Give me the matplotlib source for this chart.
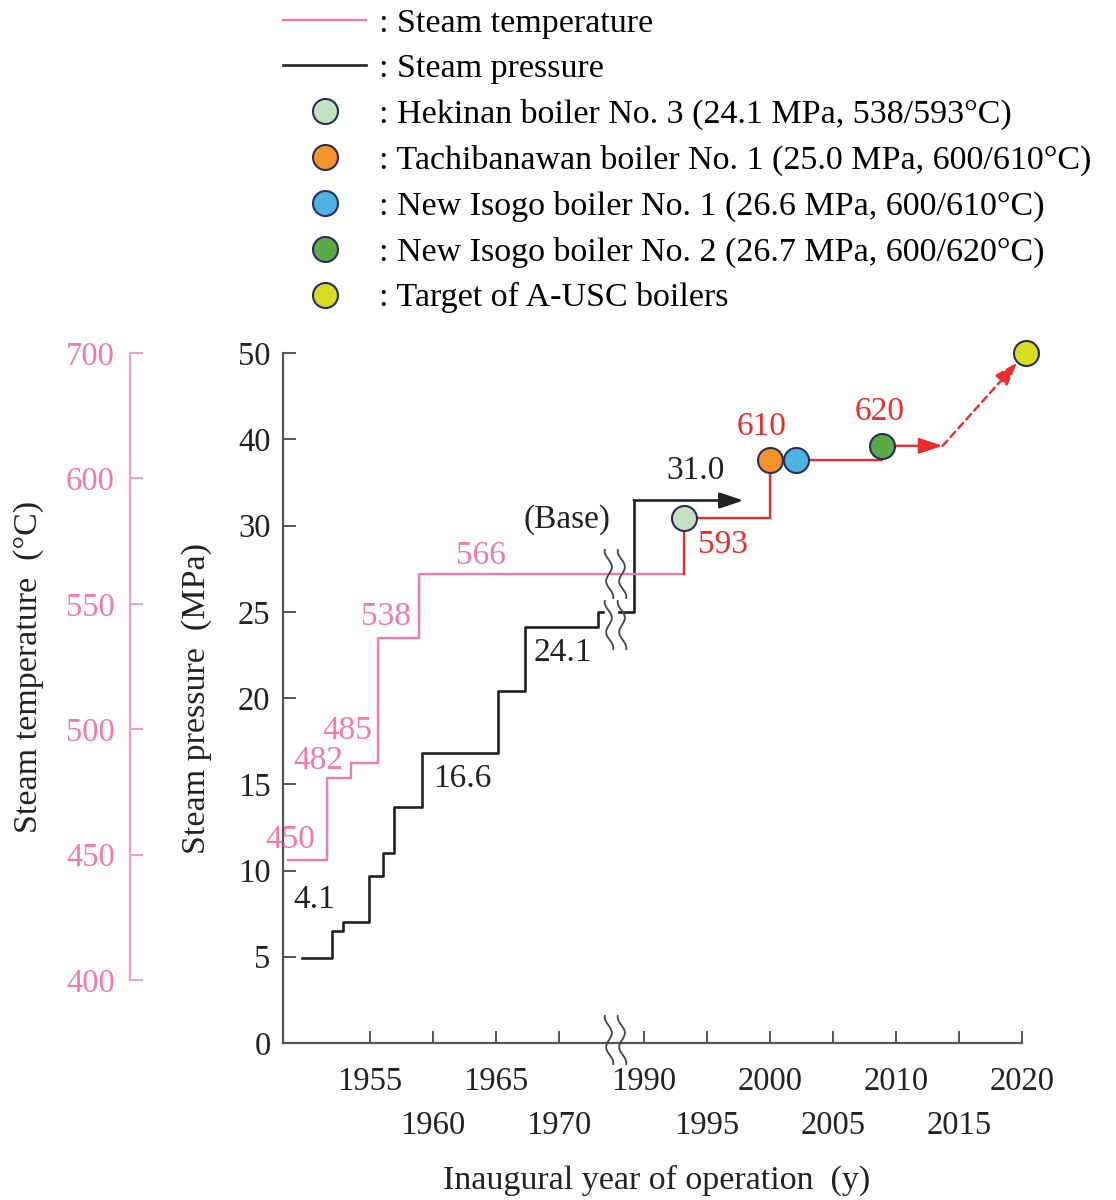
import numpy as np
import matplotlib.pyplot as plt
from matplotlib.lines import Line2D
from matplotlib.transforms import IdentityTransform

plt.rcParams['font.family'] = ['Liberation Serif', 'DejaVu Serif']
plt.rcParams['font.size'] = 24

# steam temperature steps (year, degC)
temp_years = [1948.5, 1951.6, 1953.5, 1955.6, 1958.9, 1993.2]
temp_vals = [447.8, 480.5, 486.5, 536.4, 561.9, 561.9]

# steam pressure steps (year, MPa), left of the break and right of it
press_years = [1949.6, 1952.0, 1952.9, 1954.9, 1956.0, 1956.9, 1959.1, 1965.2, 1967.3, 1973.1, 1973.5]
press_vals = [4.95, 6.5, 7.0, 9.7, 11.0, 13.7, 16.8, 20.4, 24.1, 25.0, 25.0]
press_years2 = [1988.0, 1989.2, 1989.2, 1997.9]
press_vals2 = [25.0, 25.0, 32.9, 32.9]

# boilers
boiler_names = ['Hekinan boiler No. 3 (24.1 MPa, 538/593°C)',
                'Tachibanawan boiler No. 1 (25.0 MPa, 600/610°C)',
                'New Isogo boiler No. 1 (26.6 MPa, 600/610°C)',
                'New Isogo boiler No. 2 (26.7 MPa, 600/620°C)',
                'Target of A-USC boilers']
boiler_years = [1993.2, 2000.0, 2002.1, 2008.9, 2020.3]
boiler_temps = [584.2, 615.0, 615.0, 626.0, 700.0]
boiler_colors = ['#c4e2c2', '#f5922a', '#4cb3e3', '#5aaa45', '#d9dd22']
arrow_end_year = 2013.7

press_ticks = [0, 5, 10, 15, 20, 25, 30, 40, 50]
temp_ticks = [400, 450, 500, 550, 600, 700]
year_ticks = [1955, 1960, 1965, 1970, 1990, 1995, 2000, 2005, 2010, 2015, 2020]

PINK = '#f27aaa'
PINK_AX = '#f59ac2'
RED = '#ee2b2b'
DARK = '#222222'
GREY = '#555555'
EDGE = '#2a2c5c'

# broken year axis: 1974.4 .. 1987.85 collapsed
xk_year = [1900, 1974.4, 1987.85, 2100]
xk_u = [1900, 1974.4, 1974.6, 2086.75]
def fwd_x(x): return np.interp(x, xk_year, xk_u)
def inv_x(u): return np.interp(u, xk_u, xk_year)

# pressure axis: 0-30 in steps of 5, 30-50 in steps of 10 at same spacing
def fwd_p(p): return np.interp(p, [-50, 30, 100], [-10, 6, 13])
def inv_p(u): return np.interp(u, [-10, 6, 13], [-50, 30, 100])
# temperature axis: 400-600 in steps of 50, 600-700 in one step
def fwd_t(t): return np.interp(t, [0, 600, 1000], [-8, 4, 8])
def inv_t(u): return np.interp(u, [-8, 4, 8], [0, 600, 1000])

fig = plt.figure(figsize=(11.16, 12), dpi=100)
W, H = 1116, 1200
ax = fig.add_axes([283 / W, 1 - 1043 / H, 739 / W, 690 / H])
ax.set_xscale('function', functions=(fwd_x, inv_x))
ax.set_yscale('function', functions=(fwd_p, inv_p))
ax2 = ax.twinx()
ax2.set_yscale('function', functions=(fwd_t, inv_t))

ax.set_xlim(1948.1, 2020)
ax.set_ylim(0, 50)
ax2.set_ylim(374.9, 700)

for s in ['top', 'right']:
    ax.spines[s].set_visible(False)
for s in ['top', 'right', 'bottom']:
    ax2.spines[s].set_visible(False)
for s in ['left', 'bottom']:
    ax.spines[s].set_color(GREY)
    ax.spines[s].set_linewidth(1.6)

ax.set_yticks(press_ticks)
ax.set_yticklabels([str(v) for v in press_ticks])
ax.yaxis.set_minor_locator(plt.NullLocator())
ax.tick_params(axis='y', direction='in', length=9, width=1.4, color=GREY,
               labelsize=23.5, labelcolor=DARK, pad=9)

ax.set_xticks(year_ticks)
ax.set_xticklabels([str(y) if i % 2 == 0 else '\n' + str(y) for i, y in enumerate(year_ticks)])
ax.xaxis.set_minor_locator(plt.NullLocator())
ax.tick_params(axis='x', direction='in', length=9, width=1.4, color=GREY,
               labelsize=23.5, labelcolor=DARK, pad=17)
for lab in ax.get_xticklabels():
    lab.set_linespacing(1.55)

ax2.yaxis.set_ticks_position('left')
ax2.yaxis.set_label_position('left')
ax2.spines['left'].set_position(('axes', -(283 - 130) / 739))
ax2.spines['left'].set_bounds(400, 700)
ax2.spines['left'].set_color(PINK_AX)
ax2.spines['left'].set_linewidth(1.6)
ax2.set_yticks(temp_ticks)
ax2.set_yticklabels([str(v) for v in temp_ticks])
ax2.yaxis.set_minor_locator(plt.NullLocator())
ax2.tick_params(axis='y', direction='in', length=9, width=1.4, color=PINK_AX,
                labelsize=23.5, labelcolor=PINK, pad=11)

ax.set_ylabel('Steam pressure  (MPa)', fontsize=24.5, color=DARK, va='center')
ax.yaxis.set_label_coords((197 - 283) / 739, (1043 - 698) / 690)
ax2.set_ylabel('Steam temperature  (°C)', fontsize=24.5, color=DARK, va='center')
ax2.yaxis.set_label_coords((29 - 283) / 739, (1043 - 667) / 690)
ax.set_xlabel('Inaugural year of operation  (y)', fontsize=24.5, color=DARK, va='center')
ax.xaxis.set_label_coords(0.505, -0.199)

# lines
ax.plot(press_years, press_vals, drawstyle='steps-post', color=DARK, lw=1.9)
ax.plot(press_years2[:3], press_vals2[:3], color=DARK, lw=1.9)
ax.annotate('', xy=(press_years2[3], press_vals2[3]), xytext=(press_years2[2], press_vals2[2]),
            arrowprops=dict(arrowstyle='-|>,head_length=0.9,head_width=0.3', color=DARK,
                            lw=1.9, shrinkA=0, shrinkB=0, mutation_scale=16))
ax2.plot(temp_years, temp_vals, drawstyle='steps-post', color=PINK, lw=1.7)

red_x = [temp_years[-1], boiler_years[0], boiler_years[1], boiler_years[3]]
red_y = [temp_vals[-1], boiler_temps[0], boiler_temps[1], boiler_temps[3]]
ax2.plot(red_x, red_y, drawstyle='steps-post', color=RED, lw=1.7)
ax2.annotate('', xy=(arrow_end_year, boiler_temps[3]), xytext=(boiler_years[3], boiler_temps[3]),
             arrowprops=dict(arrowstyle='-|>,head_length=0.9,head_width=0.3', color=RED,
                             lw=1.7, shrinkA=0, shrinkB=0, mutation_scale=16))
ax2.annotate('', xy=(boiler_years[4], boiler_temps[4]), xytext=(arrow_end_year, boiler_temps[3]),
             annotation_clip=False,
             arrowprops=dict(arrowstyle='-|>,head_length=0.9,head_width=0.3', color=RED,
                             lw=1.7, ls=(0, (3, 2)), shrinkA=0, shrinkB=9, mutation_scale=16))

for yr, t, c in zip(boiler_years, boiler_temps, boiler_colors):
    ax2.plot(yr, t, 'o', ms=18, mfc=c, mec=EDGE, mew=1.5, clip_on=False, zorder=5)

# value labels
for txt, x, y in [('450', 1948.7, 455.8), ('482', 1950.9, 487.3), ('485', 1953.2, 499.3),
                  ('538', 1956.3, 544.7), ('566', 1963.8, 569.1)]:
    ax2.text(x, y, txt, color=PINK, fontsize=24, ha='center', va='center')
for txt, x, y in [('4.1', 1950.6, 8.33), ('16.6', 1962.3, 15.3), ('24.1', 1970.3, 22.6),
                  ('31.0', 1994.1, 36.4), ('(Base)', 1970.6, 30.65)]:
    ax.text(x, y, txt, color=DARK, fontsize=24, ha='center', va='center')
for txt, x, y in [('593', 1996.3, 573.4), ('610', 1999.3, 641), ('620', 2008.7, 653.5)]:
    ax2.text(x, y, txt, color=RED, fontsize=24, ha='center', va='center')

# break marks (drawn in pixel space, centred on the collapsed gap)
def wave(xc, yc_px):
    yy = np.linspace(-24, 24, 80)
    xx = xc + 3.2 * np.sin(2 * np.pi * yy / 30.0) - yy * 0.05
    line = Line2D(xx, (H - yc_px) + yy, color='#444444', lw=1.3, transform=IdentityTransform())
    fig.add_artist(line)
for yc in [574, 625, 1040]:
    for xc in [609, 622]:
        wave(xc, yc)

legend_handles = [Line2D([0], [0], color=PINK, lw=1.7), Line2D([0], [0], color=DARK, lw=1.9)]
legend_handles += [Line2D([0], [0], ls='none', marker='o', ms=18, mfc=c, mec=EDGE, mew=1.5)
                   for c in boiler_colors]
legend_labels = [': Steam temperature', ': Steam pressure'] + [': ' + n for n in boiler_names]
fig.legend(legend_handles, legend_labels, loc='upper left', bbox_to_anchor=(283 / W, 1 - 8 / H),
           frameon=False, handlelength=2.45, handletextpad=0.38, labelspacing=0.43,
           borderpad=0, borderaxespad=0, fontsize=24.5)

fig.savefig('out.png', dpi=100)
